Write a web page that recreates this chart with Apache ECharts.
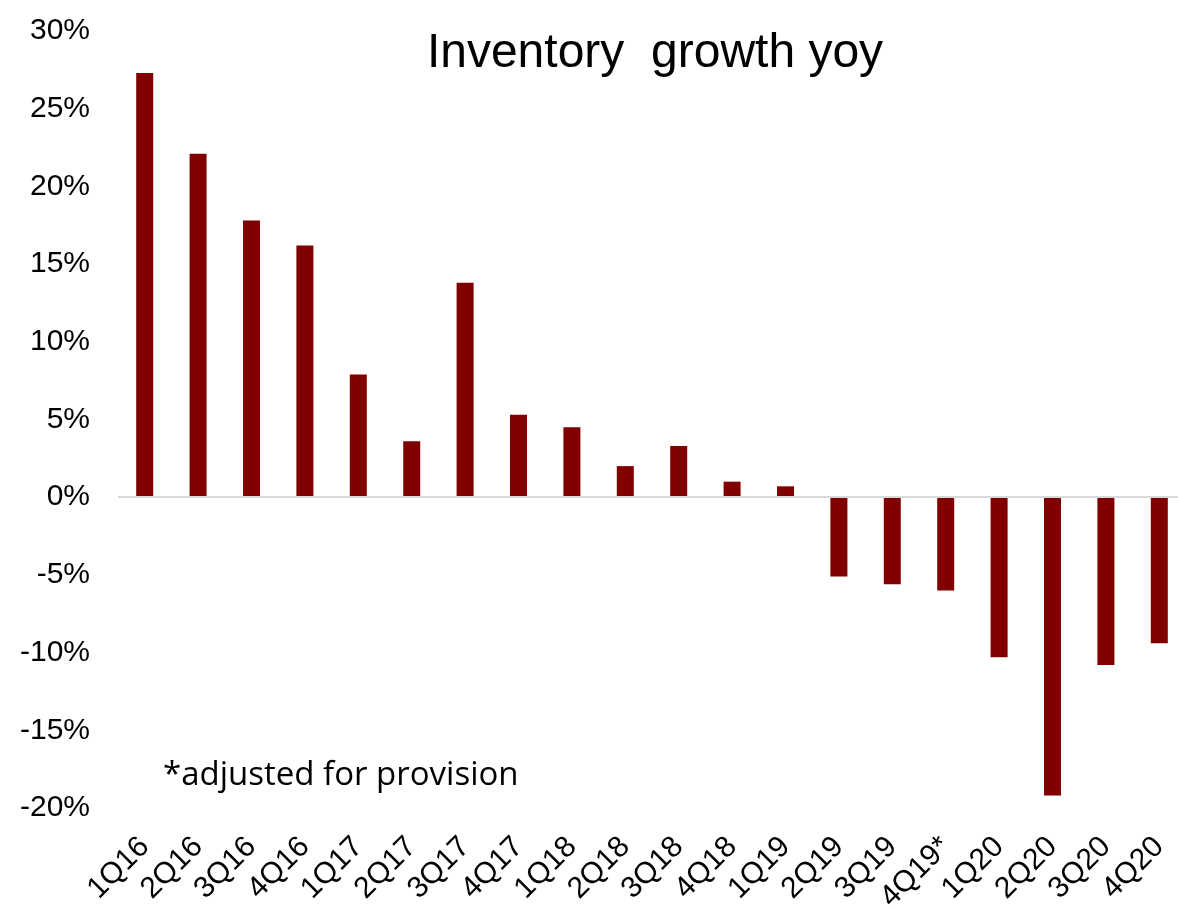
<!DOCTYPE html>
<html>
<head>
<meta charset="utf-8">
<script src="https://cdn.jsdelivr.net/npm/echarts@6/dist/echarts.min.js"></script>
<style>
html,body{margin:0;padding:0;background:#fff;}
#chart{width:1178px;height:908px;}
</style>
</head>
<body>
<div id="chart"></div>
<script>
const categories = ['1Q16','2Q16','3Q16','4Q16','1Q17','2Q17','3Q17','4Q17','1Q18','2Q18','3Q18','4Q18','1Q19','2Q19','3Q19','4Q19*','1Q20','2Q20','3Q20','4Q20'];
const growthYoY = [27.3, 22.1, 17.8, 16.2, 7.9, 3.6, 13.8, 5.3, 4.5, 2.0, 3.3, 1.0, 0.7, -5.1, -5.6, -6.0, -10.3, -19.2, -10.8, -9.4];
const yTicks = { min: -20, max: 30, interval: 5 };
const titleText = 'Inventory  growth yoy';
const noteText = '*adjusted for provision';

const chart = echarts.init(document.getElementById('chart'));
chart.setOption({
  animation: false,
  backgroundColor: '#ffffff',
  title: [
    { text: titleText, left: 650, top: 25, textAlign: 'center',
      textStyle: { fontFamily: 'Liberation Sans', fontSize: 48, fontWeight: 'normal', color: '#000' } },
    { text: noteText, left: 158, top: 754,
      textStyle: { fontFamily: 'Open Sans', fontSize: 33, fontWeight: 'normal', color: '#000' } }
  ],
  grid: { left: 118, top: 31, width: 1068, height: 777, containLabel: false, outerBoundsMode: 'none' },
  xAxis: {
    type: 'category',
    data: categories,
    boundaryGap: true,
    axisLine: { show: false, onZero: false },
    axisTick: { show: false },
    axisLabel: { rotate: 45, margin: 34, fontFamily: 'Liberation Sans', fontSize: 30, color: '#000', interval: 0 }
  },
  yAxis: {
    type: 'value',
    min: yTicks.min, max: yTicks.max, interval: yTicks.interval,
    axisLine: { show: false },
    axisTick: { show: false },
    splitLine: { show: false },
    axisLabel: { margin: 28, fontFamily: 'Liberation Sans', fontSize: 30, color: '#000', formatter: v => v + '%' }
  },
  series: [{
    type: 'bar',
    data: growthYoY,
    barWidth: 17,
    itemStyle: { color: '#800000' },
    markLine: {
      silent: true, symbol: 'none', label: { show: false },
      lineStyle: { color: '#d9d9d9', width: 2, type: 'solid' },
      data: [{ yAxis: 0 }]
    }
  }]
});
</script>
</body>
</html>
